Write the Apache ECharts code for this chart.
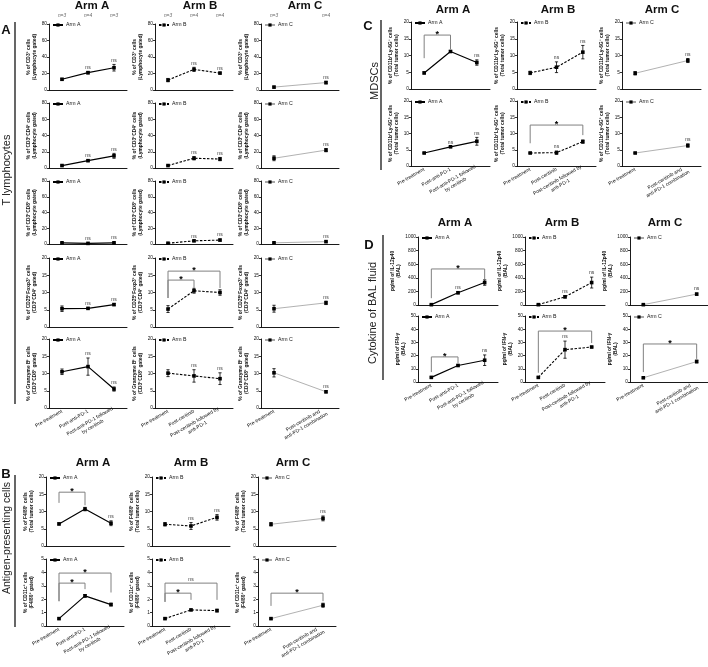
<!DOCTYPE html>
<html><head><meta charset="utf-8">
<script src="https://cdn.jsdelivr.net/npm/echarts@6/dist/echarts.min.js"></script>
<style>html,body{margin:0;padding:0;background:#fff}#c{width:708px;height:667px}</style>
</head><body><div id="c"></div>
<script>
const FONT = "'Liberation Sans', Arial, Helvetica, sans-serif";

// ---------- categories & tick labels ----------
const catsArmA = ['Pre-treatment', 'Post-anti-PD-1', 'Post-anti-PD-1 followed\nby ceritinib'];
const catsArmB = ['Pre-treatment', 'Post-ceritinib', 'Post-ceritinib followed by\nanti-PD-1'];
const catsArmC = ['Pre-treatment', '', 'Post-ceritinib and\nanti-PD-1 combination'];
const nArmA = ['n=3', 'n=4', 'n=3'];
const nArmB = ['n=3', 'n=4', 'n=4'];
const nArmC = ['n=3', '', 'n=4'];
const ticksPct80 = [0, 20, 40, 60, 80];
const ticksPct20 = [0, 5, 10, 15, 20];
const ticksPct5 = [0, 1, 2, 3, 4, 5];
const ticksIL12 = [0, 200, 400, 600, 800, 1000];
const ticksIFNG = [0, 10, 20, 30, 40, 50];

// ---------- axis names ----------
const nameCD3 = '% of CD3⁺ cells\n(Lymphocyte gated)';
const nameCD4 = '% of CD3⁺CD4⁺ cells\n(Lymphocyte gated)';
const nameCD8 = '% of CD3⁺CD8⁺ cells\n(Lymphocyte gated)';
const nameTreg = '% of CD25⁺Foxp3⁺ cells\n(CD3⁺CD4⁺ gated)';
const nameGzmb = '% of Granzyme B⁺ cells\n(CD3⁺CD8⁺ gated)';
const nameF480 = '% of F4/80⁺ cells\n(Total tumor cells)';
const nameCD11c = '% of CD11c⁺ cells\n(F4/80⁺ gated)';
const nameMdscM = '% of CD11b⁺Ly-6G⁻ cells\n(Total tumor cells)';
const nameMdscG = '% of CD11b⁺Ly-6G⁺ cells\n(Total tumor cells)';
const nameIL12 = 'pg/ml of IL-12p40\n(BAL)';
const nameIFNG = 'pg/ml of IFN-γ\n(BAL)';

// ---------- values (mean, sd) ----------
const cd3_A = [13, 21, 27];        const cd3_A_sd = [1, 1.5, 4];
const cd3_B = [12, 25, 20.5];      const cd3_B_sd = [2, 2.5, 1];
const cd3_C = [3.5, null, 9];      const cd3_C_sd = [1, null, 1.5];
const cd4_A = [3, 9, 15];          const cd4_A_sd = [0.7, 1, 3];
const cd4_B = [3, 12, 11];         const cd4_B_sd = [0.5, 2, 2];
const cd4_C = [12, null, 22];      const cd4_C_sd = [3, null, 2];
const cd8_A = [1.5, 0.8, 1.5];     const cd8_A_sd = [0.5, 0.5, 1];
const cd8_B = [1, 4, 5];           const cd8_B_sd = [0.3, 0.8, 1.2];
const cd8_C = [1.5, null, 3];      const cd8_C_sd = [0.8, null, 0.8];
const treg_A = [5.3, 5.4, 6.5];    const treg_A_sd = [0.8, 0.2, 0.3];
const treg_B = [5.2, 10.5, 10.0];  const treg_B_sd = [1.0, 0.7, 0.8];
const treg_C = [5.3, null, 7.0];   const treg_C_sd = [1.0, null, 0.5];
const gzmb_A = [10.5, 12.0, 5.5];  const gzmb_A_sd = [0.8, 2.5, 0.6];
const gzmb_B = [10.1, 9.3, 8.5];   const gzmb_B_sd = [1.0, 1.8, 1.7];
const gzmb_C = [10.2, null, 4.7];  const gzmb_C_sd = [1.2, null, 0.3];
const f480_A = [6.4, 10.7, 6.6];   const f480_A_sd = [0.3, 0.5, 0.7];
const f480_B = [6.3, 5.8, 8.3];    const f480_B_sd = [0.5, 1.0, 0.8];
const f480_C = [6.3, null, 8.0];   const f480_C_sd = [0.5, null, 0.7];
const cd11c_A = [0.55, 2.25, 1.6]; const cd11c_A_sd = [0.05, 0.1, 0.1];
const cd11c_B = [0.55, 1.2, 1.15]; const cd11c_B_sd = [0.05, 0.05, 0.1];
const cd11c_C = [0.55, null, 1.55];const cd11c_C_sd = [0.05, null, 0.15];
const mdscM_A = [4.8, 11.2, 7.9];  const mdscM_A_sd = [0.3, 0.3, 0.8];
const mdscM_B = [4.8, 6.5, 11.0];  const mdscM_B_sd = [0.5, 1.6, 2.0];
const mdscM_C = [4.7, null, 8.5];  const mdscM_C_sd = [0.5, null, 0.6];
const mdscG_A = [4.0, 5.9, 7.6];   const mdscG_A_sd = [0.1, 0.2, 1.2];
const mdscG_B = [4.0, 4.1, 7.5];   const mdscG_B_sd = [0.1, 0.5, 0.5];
const mdscG_C = [4.0, null, 6.3];  const mdscG_C_sd = [0.1, null, 0.5];
const il12_A = [5, 180, 330];      const il12_A_sd = [5, 15, 40];
const il12_B = [5, 120, 330];      const il12_B_sd = [5, 15, 80];
const il12_C = [5, null, 160];     const il12_C_sd = [5, null, 15];
const ifng_A = [3.5, 12.5, 16.5];  const ifng_A_sd = [0.5, 0.5, 4];
const ifng_B = [3.5, 24.5, 26.5];  const ifng_B_sd = [0.5, 6.5, 0.5];
const ifng_C = [3.2, null, 15.5];  const ifng_C_sd = [0.5, null, 1];

// ---------- "ns" label positions (category index) ----------
const ns_12 = [1, 2], ns_2 = [2], ns_1 = [1], ns_none = [];

// ---------- significance brackets [from, to, top, leftBottom, rightBottom] ----------
const brk_treg_B = [[0, 1, 13.6, 8.4, 11.3], [0, 2, 16.2, 8.4, 11.3]];  const brkLab_treg_B = ['*', '*'];
const brk_f480_A = [[0, 1, 15.6, 12.5, 11.8]];                           const brkLab_f480_A = ['*'];
const brk_cd11c_A = [[0, 1, 3.2, 1.85, 2.75], [0, 2, 3.95, 1.85, 2.5]]; const brkLab_cd11c_A = ['*', '*'];
const brk_cd11c_B = [[0, 1, 2.45, 1.8, 1.95], [0, 2, 3.2, 1.8, 1.95]];  const brkLab_cd11c_B = ['*', 'ns'];
const brk_cd11c_C = [[0, 2, 2.45, 1.5, 1.85]];                           const brkLab_cd11c_C = ['*'];
const brk_mdscM_A = [[0, 1, 16.1, 9.2, 11.8]];                           const brkLab_mdscM_A = ['*'];
const brk_mdscG_B = [[0, 2, 12.6, 7, 9.5]];                              const brkLab_mdscG_B = ['*'];
const brk_il12_A = [[0, 2, 530, 100, 380]];                              const brkLab_il12_A = ['*'];
const brk_ifng_A = [[0, 1, 19, 7.5, 14]];                                const brkLab_ifng_A = ['*'];
const brk_ifng_B = [[0, 2, 38.6, 7, 29.5]];                              const brkLab_ifng_B = ['*'];
const brk_ifng_C = [[0, 2, 28.8, 7.5, 17.5]];                            const brkLab_ifng_C = ['*'];

// ---------- layout ----------
const layout = {
  A: { lefts: [49, 155, 261], tops: [24, 103, 181, 258, 339], heights: [66, 65, 63, 69, 69], width: 78 },
  B: { lefts: [46, 152, 258], tops: [477, 559], heights: [69, 67], width: 78 },
  C: { lefts: [411, 517, 622], tops: [22, 101], heights: [67, 65], width: 79 },
  D: { lefts: [418, 525, 630], tops: [237, 316], heights: [68, 66], width: 80 }
};
const armStyle = {
  A: { color: '#000', type: 'solid', width: 1.2 },
  B: { color: '#000', type: [2.5, 1.5], width: 1.1 },
  C: { color: '#a8a8a8', type: 'solid', width: 0.9 }
};
const catsOf = { A: catsArmA, B: catsArmB, C: catsArmC };
const nOf = { A: nArmA, B: nArmB, C: nArmC };

const plotList = [
  { panel: 'A', row: 0, col: 0, arm: 'A', mean: cd3_A, sd: cd3_A_sd, ns: ns_12, ticks: ticksPct80, yName: nameCD3, nLab: true },
  { panel: 'A', row: 0, col: 1, arm: 'B', mean: cd3_B, sd: cd3_B_sd, ns: ns_12, ticks: ticksPct80, yName: nameCD3, nLab: true },
  { panel: 'A', row: 0, col: 2, arm: 'C', mean: cd3_C, sd: cd3_C_sd, ns: ns_2, ticks: ticksPct80, yName: nameCD3, nLab: true },
  { panel: 'A', row: 1, col: 0, arm: 'A', mean: cd4_A, sd: cd4_A_sd, ns: ns_12, ticks: ticksPct80, yName: nameCD4 },
  { panel: 'A', row: 1, col: 1, arm: 'B', mean: cd4_B, sd: cd4_B_sd, ns: ns_12, ticks: ticksPct80, yName: nameCD4 },
  { panel: 'A', row: 1, col: 2, arm: 'C', mean: cd4_C, sd: cd4_C_sd, ns: ns_2, ticks: ticksPct80, yName: nameCD4 },
  { panel: 'A', row: 2, col: 0, arm: 'A', mean: cd8_A, sd: cd8_A_sd, ns: ns_12, ticks: ticksPct80, yName: nameCD8 },
  { panel: 'A', row: 2, col: 1, arm: 'B', mean: cd8_B, sd: cd8_B_sd, ns: ns_12, ticks: ticksPct80, yName: nameCD8 },
  { panel: 'A', row: 2, col: 2, arm: 'C', mean: cd8_C, sd: cd8_C_sd, ns: ns_2, ticks: ticksPct80, yName: nameCD8 },
  { panel: 'A', row: 3, col: 0, arm: 'A', mean: treg_A, sd: treg_A_sd, ns: ns_12, ticks: ticksPct20, yName: nameTreg },
  { panel: 'A', row: 3, col: 1, arm: 'B', mean: treg_B, sd: treg_B_sd, ns: ns_none, ticks: ticksPct20, yName: nameTreg, brk: brk_treg_B, brkLab: brkLab_treg_B },
  { panel: 'A', row: 3, col: 2, arm: 'C', mean: treg_C, sd: treg_C_sd, ns: ns_2, ticks: ticksPct20, yName: nameTreg },
  { panel: 'A', row: 4, col: 0, arm: 'A', mean: gzmb_A, sd: gzmb_A_sd, ns: ns_12, ticks: ticksPct20, yName: nameGzmb },
  { panel: 'A', row: 4, col: 1, arm: 'B', mean: gzmb_B, sd: gzmb_B_sd, ns: ns_12, ticks: ticksPct20, yName: nameGzmb },
  { panel: 'A', row: 4, col: 2, arm: 'C', mean: gzmb_C, sd: gzmb_C_sd, ns: ns_2, ticks: ticksPct20, yName: nameGzmb },
  { panel: 'B', row: 0, col: 0, arm: 'A', mean: f480_A, sd: f480_A_sd, ns: ns_2, ticks: ticksPct20, yName: nameF480, brk: brk_f480_A, brkLab: brkLab_f480_A },
  { panel: 'B', row: 0, col: 1, arm: 'B', mean: f480_B, sd: f480_B_sd, ns: ns_12, ticks: ticksPct20, yName: nameF480 },
  { panel: 'B', row: 0, col: 2, arm: 'C', mean: f480_C, sd: f480_C_sd, ns: ns_2, ticks: ticksPct20, yName: nameF480 },
  { panel: 'B', row: 1, col: 0, arm: 'A', mean: cd11c_A, sd: cd11c_A_sd, ns: ns_none, ticks: ticksPct5, yName: nameCD11c, brk: brk_cd11c_A, brkLab: brkLab_cd11c_A },
  { panel: 'B', row: 1, col: 1, arm: 'B', mean: cd11c_B, sd: cd11c_B_sd, ns: ns_none, ticks: ticksPct5, yName: nameCD11c, brk: brk_cd11c_B, brkLab: brkLab_cd11c_B },
  { panel: 'B', row: 1, col: 2, arm: 'C', mean: cd11c_C, sd: cd11c_C_sd, ns: ns_none, ticks: ticksPct5, yName: nameCD11c, brk: brk_cd11c_C, brkLab: brkLab_cd11c_C },
  { panel: 'C', row: 0, col: 0, arm: 'A', mean: mdscM_A, sd: mdscM_A_sd, ns: ns_2, ticks: ticksPct20, yName: nameMdscM, brk: brk_mdscM_A, brkLab: brkLab_mdscM_A },
  { panel: 'C', row: 0, col: 1, arm: 'B', mean: mdscM_B, sd: mdscM_B_sd, ns: ns_12, ticks: ticksPct20, yName: nameMdscM },
  { panel: 'C', row: 0, col: 2, arm: 'C', mean: mdscM_C, sd: mdscM_C_sd, ns: ns_2, ticks: ticksPct20, yName: nameMdscM },
  { panel: 'C', row: 1, col: 0, arm: 'A', mean: mdscG_A, sd: mdscG_A_sd, ns: ns_12, ticks: ticksPct20, yName: nameMdscG },
  { panel: 'C', row: 1, col: 1, arm: 'B', mean: mdscG_B, sd: mdscG_B_sd, ns: ns_1, ticks: ticksPct20, yName: nameMdscG, brk: brk_mdscG_B, brkLab: brkLab_mdscG_B },
  { panel: 'C', row: 1, col: 2, arm: 'C', mean: mdscG_C, sd: mdscG_C_sd, ns: ns_2, ticks: ticksPct20, yName: nameMdscG },
  { panel: 'D', row: 0, col: 0, arm: 'A', mean: il12_A, sd: il12_A_sd, ns: ns_1, ticks: ticksIL12, yName: nameIL12, brk: brk_il12_A, brkLab: brkLab_il12_A },
  { panel: 'D', row: 0, col: 1, arm: 'B', mean: il12_B, sd: il12_B_sd, ns: ns_12, ticks: ticksIL12, yName: nameIL12 },
  { panel: 'D', row: 0, col: 2, arm: 'C', mean: il12_C, sd: il12_C_sd, ns: ns_2, ticks: ticksIL12, yName: nameIL12 },
  { panel: 'D', row: 1, col: 0, arm: 'A', mean: ifng_A, sd: ifng_A_sd, ns: ns_2, ticks: ticksIFNG, yName: nameIFNG, brk: brk_ifng_A, brkLab: brkLab_ifng_A },
  { panel: 'D', row: 1, col: 1, arm: 'B', mean: ifng_B, sd: ifng_B_sd, ns: ns_1, ticks: ticksIFNG, yName: nameIFNG, brk: brk_ifng_B, brkLab: brkLab_ifng_B },
  { panel: 'D', row: 1, col: 2, arm: 'C', mean: ifng_C, sd: ifng_C_sd, ns: ns_none, ticks: ticksIFNG, yName: nameIFNG, brk: brk_ifng_C, brkLab: brkLab_ifng_C }
];

const grids = [], xAxes = [], yAxes = [], series = [], legends = [];

plotList.forEach((p, g) => {
  const L = layout[p.panel];
  const left = L.lefts[p.col], top = L.tops[p.row], h = L.heights[p.row], w = L.width;
  const bottomRow = p.row === L.tops.length - 1;
  const cats = catsOf[p.arm];
  const st = armStyle[p.arm];
  grids.push({ left, top, width: w, height: h, containLabel: false, outerBoundsMode: 'none' });
  xAxes.push({
    gridIndex: g, type: 'category', data: cats, boundaryGap: true,
    axisLine: { lineStyle: { color: '#000', width: 0.9 } },
    axisTick: { alignWithLabel: true, interval: 0, length: 2.2, lineStyle: { color: '#000', width: 0.8 } },
    axisLabel: {
      show: bottomRow, interval: 0, rotate: 30, margin: 3, color: '#111', fontFamily: FONT, fontSize: 5,
      formatter: v => v.split('\n').map(s => '{l|' + s + '}').join('\n'),
      rich: { l: { align: 'center', fontSize: 5, fontFamily: FONT, color: '#111', lineHeight: 6 } }
    },
    splitLine: { show: false }
  });
  const t = p.ticks;
  yAxes.push({
    gridIndex: g, type: 'value', min: t[0], max: t[t.length - 1], interval: t[1] - t[0],
    axisLine: { show: true, lineStyle: { color: '#000', width: 0.9 } },
    axisTick: { show: true, length: 2, lineStyle: { color: '#000', width: 0.8 } },
    axisLabel: { fontSize: 4.8, margin: 2, color: '#111', fontFamily: FONT, formatter: v => String(v) },
    splitLine: { show: false },
    name: p.yName, nameLocation: 'middle', nameGap: p.ticks === ticksIL12 ? 15 : 11,
    nameTextStyle: { fontSize: 4.9, lineHeight: 6, color: '#111', fontFamily: FONT, fontWeight: 'bold' }
  });
  // error bars
  series.push({
    type: 'custom', xAxisIndex: g, yAxisIndex: g, z: 2, silent: true, clip: false,
    data: p.mean.map((m, i) => m == null ? null : [i, m, p.sd[i]]).filter(d => d),
    renderItem: (params, api) => {
      const x = api.value(0), m = api.value(1), s = api.value(2);
      const hi = api.coord([x, m + s]), lo = api.coord([x, Math.max(0, m - s)]);
      const c = 1.6, ls = { stroke: '#000', lineWidth: 0.8 };
      return { type: 'group', children: [
        { type: 'line', shape: { x1: hi[0], y1: hi[1], x2: lo[0], y2: lo[1] }, style: ls },
        { type: 'line', shape: { x1: hi[0] - c, y1: hi[1], x2: hi[0] + c, y2: hi[1] }, style: ls },
        { type: 'line', shape: { x1: lo[0] - c, y1: lo[1], x2: lo[0] + c, y2: lo[1] }, style: ls }
      ] };
    }
  });
  // line + markers
  series.push({
    type: 'line', name: 'Arm ' + p.arm, xAxisIndex: g, yAxisIndex: g, z: 3, silent: true,
    data: p.mean, connectNulls: true, symbol: 'rect', symbolSize: 3.6,
    lineStyle: { color: st.color, type: st.type, width: st.width },
    itemStyle: { color: '#000' }
  });
  // ns labels
  if (p.ns.length) {
    series.push({
      type: 'custom', xAxisIndex: g, yAxisIndex: g, z: 4, silent: true, clip: false,
      data: p.ns.map(i => [i, p.mean[i] + p.sd[i]]),
      renderItem: (params, api) => {
        const pt = api.coord([api.value(0), api.value(1)]);
        return { type: 'text', x: pt[0], y: pt[1] - 1.5,
          style: { text: 'ns', fontSize: 5, fontFamily: FONT, fill: '#333', align: 'center', verticalAlign: 'bottom' } };
      }
    });
  }
  // brackets
  if (p.brk) {
    series.push({
      type: 'custom', xAxisIndex: g, yAxisIndex: g, z: 4, silent: true, clip: false,
      data: p.brk,
      renderItem: (params, api) => {
        const f = api.value(0), to = api.value(1), tp = api.value(2), lb = api.value(3), rb = api.value(4);
        const a = api.coord([f, lb]), p1 = api.coord([f, tp]), p2 = api.coord([to, tp]), b = api.coord([to, rb]);
        const lab = p.brkLab[params.dataIndex];
        const isStar = lab === '*';
        return { type: 'group', children: [
          { type: 'polyline', shape: { points: [a, p1, p2, b] }, style: { stroke: '#808080', lineWidth: 1, fill: null } },
          { type: 'text', x: (p1[0] + p2[0]) / 2, y: isStar ? p1[1] + 4.2 : p1[1] - 1.2,
            style: { text: lab, fontSize: isStar ? 9 : 5, fontWeight: isStar ? 'bold' : 'normal', fontFamily: FONT,
              fill: isStar ? '#000' : '#333', align: 'center', verticalAlign: 'bottom' } }
        ] };
      }
    });
  }
  // n labels
  if (p.nLab) {
    const nl = nOf[p.arm];
    series.push({
      type: 'custom', xAxisIndex: g, yAxisIndex: g, z: 4, silent: true, clip: false,
      data: nl.map((s, i) => [i, t[t.length - 1]]).filter((d, i) => nl[i] !== ''),
      renderItem: (params, api) => {
        const pt = api.coord([api.value(0), api.value(1)]);
        return { type: 'text', x: pt[0], y: pt[1] - 8,
          style: { text: nl[api.value(0)], fontSize: 4.8, fontStyle: 'italic', fontFamily: FONT, fill: '#666', align: 'center', verticalAlign: 'middle' } };
      }
    });
  }
  legends.push({
    left: left + 3, top: top - 1.5, data: ['Arm ' + p.arm], selectedMode: false,
    itemWidth: 10, itemHeight: 4, itemGap: 2, padding: 0,
    textStyle: { fontSize: 5.2, color: '#111', fontFamily: FONT, padding: [0, 0, 0, -2] }
  });
});

const T = (text, x, y, size, bold) => ({ type: 'text', x, y, silent: true,
  style: { text, fontSize: size, fontWeight: bold ? 'bold' : 'normal', fontFamily: FONT, fill: '#111', align: 'center', verticalAlign: 'middle' } });
const R = (text, x, y, size) => ({ type: 'text', x, y, rotation: Math.PI / 2, silent: true,
  style: { text, fontSize: size, fontFamily: FONT, fill: '#222', align: 'center', verticalAlign: 'middle' } });
const V = (x, y1, y2) => ({ type: 'line', silent: true, shape: { x1: x, y1, x2: x, y2 }, style: { stroke: '#000', lineWidth: 1.2 } });

const graphic = [
  T('Arm A', 92, 6, 11.5, true), T('Arm B', 200, 6, 11.5, true), T('Arm C', 305, 6, 11.5, true),
  T('Arm A', 93, 463, 11.5, true), T('Arm B', 191, 463, 11.5, true), T('Arm C', 293, 463, 11.5, true),
  T('Arm A', 453, 10, 11.5, true), T('Arm B', 558, 10, 11.5, true), T('Arm C', 662, 10, 11.5, true),
  T('Arm A', 455, 223, 11.5, true), T('Arm B', 562, 223, 11.5, true), T('Arm C', 665, 223, 11.5, true),
  T('A', 6, 30, 13, true), T('B', 6, 474, 13, true), T('C', 368, 26, 13, true), T('D', 369, 245, 13, true),
  R('T lymphocytes', 7, 170, 11), R('Antigen-presenting cells', 7, 538, 10.5),
  R('MDSCs', 375, 81, 11), R('Cytokine of BAL fluid', 373, 313, 11),
  V(15, 22, 404), V(15, 475, 627), V(381, 20, 170), V(383, 235, 380)
];

const chart = echarts.init(document.getElementById('c'), null, { renderer: 'canvas' });
chart.setOption({
  animation: false,
  backgroundColor: '#fff',
  textStyle: { fontFamily: FONT },
  grid: grids, xAxis: xAxes, yAxis: yAxes, series, legend: legends, graphic
});
</script></body></html>
